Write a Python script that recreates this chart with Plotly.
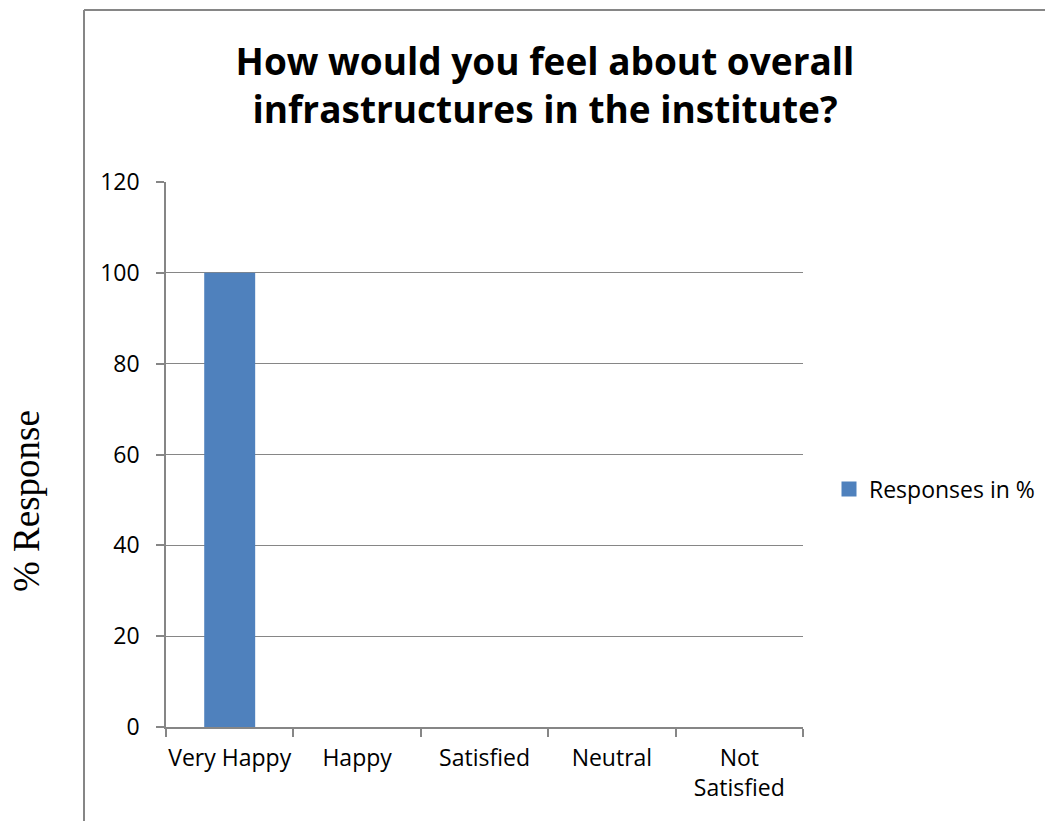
import plotly.graph_objects as go

# Survey results
categories = ["Very Happy", "Happy", "Satisfied", "Neutral", "Not<br>Satisfied"]
responses = [100, 0, 0, 0, 0]
series_name = "Responses in %"
y_ticks = [0, 20, 40, 60, 80, 100, 120]

W, H = 1045, 821
L, R, T, B = 166, 242, 182, 94
plot_w, plot_h = W - L - R, H - T - B

GRAY = "#868686"
BLUE = "#4F81BD"
FONT = "Open Sans"


def px_x(x):
    return (x - L) / plot_w


def px_y(y):
    return (H - B - y) / plot_h


fig = go.Figure()
fig.add_trace(go.Bar(
    x=categories, y=responses, name=series_name, showlegend=False,
    marker=dict(color=BLUE, line=dict(width=0)),
))
# legend entry with a larger square swatch, like the original
fig.add_trace(go.Scatter(
    x=[None], y=[None], mode="markers", name=series_name,
    marker=dict(color=BLUE, symbol="square", size=15),
))

fig.update_layout(
    width=W, height=H,
    margin=dict(l=L, r=R, t=T, b=B, autoexpand=False),
    paper_bgcolor="white", plot_bgcolor="white",
    font=dict(family=FONT, color="black", size=23),
    bargap=0.6,
    title=dict(
        text="How would you feel about overall<br>infrastructures in the institute?",
        font=dict(family=FONT, size=37, color="black", weight="bold"),
        x=545 / W, xanchor="center", y=1 - 75 / H, yanchor="middle",
    ),
    showlegend=True,
    legend=dict(
        x=px_x(829), xanchor="left", y=px_y(489), yanchor="middle",
        font=dict(size=23), itemwidth=30, bgcolor="rgba(0,0,0,0)",
    ),
    xaxis=dict(
        showline=True, linecolor=GRAY, linewidth=1.5,
        ticks="outside", ticklen=8, tickcolor=GRAY, tickwidth=1.5,
        tickson="boundaries", showgrid=False, tickangle=0, automargin=False,
        tickfont=dict(size=23), ticklabelstandoff=10,
    ),
    yaxis=dict(
        range=[0, 120], tickvals=y_ticks, automargin=False,
        showline=True, linecolor=GRAY, linewidth=1.5,
        ticks="outside", ticklen=8, tickcolor=GRAY, tickwidth=1.5,
        showgrid=True, gridcolor=GRAY, gridwidth=1.2,
        zeroline=False, tickfont=dict(size=23), ticklabelstandoff=12,
    ),
    annotations=[dict(
        text="% Response", textangle=-90, showarrow=False,
        xref="paper", yref="paper", x=px_x(26), y=px_y(501),
        xanchor="center", yanchor="middle",
        font=dict(family="Liberation Serif", size=37, color="black"),
    )],
    shapes=[
        dict(type="line", xref="paper", yref="paper",
             x0=px_x(84), x1=px_x(84), y0=px_y(10), y1=px_y(H + 20),
             line=dict(color=GRAY, width=2)),
        dict(type="line", xref="paper", yref="paper",
             x0=px_x(84), x1=px_x(W + 20), y0=px_y(10), y1=px_y(10),
             line=dict(color=GRAY, width=2)),
    ],
)

# drop the default page margin so the figure sits at the window origin
fig.write_html("out.html", config={"displayModeBar": False},
               post_script="document.body.style.margin = '0';")
